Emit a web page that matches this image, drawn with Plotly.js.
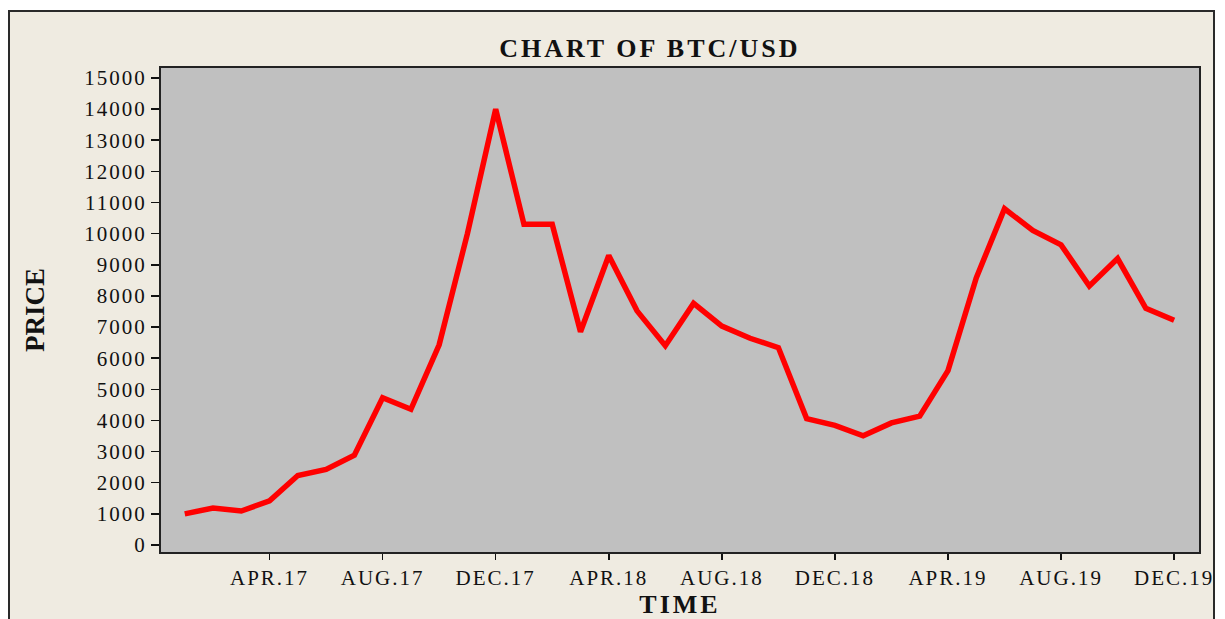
<!DOCTYPE html>
<html>
<head>
<meta charset="utf-8">
<script src="https://cdn.plot.ly/plotly-3.0.1.min.js"></script>
<style>
  html, body { margin: 0; padding: 0; background: #ffffff; }
  #frame {
    position: absolute; left: 8px; top: 10px; width: 1207px; height: 640px;
    background: #EFEBE1; border: 2px solid #2a2a2a; box-sizing: border-box;
  }
  #chart { position: absolute; left: 0; top: 0; width: 1225px; height: 619px; }
  .xtick text, .ytick text { letter-spacing: 2px; }
  .gtitle { letter-spacing: 3px; }
  .xtitle { letter-spacing: 3px; }
</style>
</head>
<body>
<div id="frame"></div>
<div id="chart"></div>
<script>
// Monthly BTC/USD closing price, Jan 2017 - Dec 2019
const months = [
  "JAN.17","FEB.17","MAR.17","APR.17","MAY.17","JUN.17","JUL.17","AUG.17","SEP.17","OCT.17","NOV.17","DEC.17",
  "JAN.18","FEB.18","MAR.18","APR.18","MAY.18","JUN.18","JUL.18","AUG.18","SEP.18","OCT.18","NOV.18","DEC.18",
  "JAN.19","FEB.19","MAR.19","APR.19","MAY.19","JUN.19","JUL.19","AUG.19","SEP.19","OCT.19","NOV.19","DEC.19"
];
const prices = [
  1000, 1190, 1090, 1420, 2230, 2430, 2880, 4730, 4360, 6430, 10000, 14000,
  10300, 10300, 6850, 9300, 7520, 6400, 7760, 7030, 6640, 6340, 4060, 3840,
  3510, 3920, 4140, 5600, 8580, 10800, 10100, 9640, 8320, 9200, 7600, 7220
];
const tickLabels = ["APR.17","AUG.17","DEC.17","APR.18","AUG.18","DEC.18","APR.19","AUG.19","DEC.19"];
const tickMonths = tickLabels.map(t => months.indexOf(t));
const idx = months.map((m, i) => i);

const serif = "Liberation Serif, Times New Roman, serif";

const trace = {
  x: idx,
  y: prices,
  text: months,
  type: "scatter",
  mode: "lines",
  line: { color: "#ff0000", width: 5.5 },
  hovertemplate: "%{text}: %{y}<extra></extra>"
};

const layout = {
  width: 1225, height: 619,
  margin: { l: 161, r: 26, t: 68, b: 67 },
  paper_bgcolor: "rgba(0,0,0,0)",
  plot_bgcolor: "#C0C0C0",
  showlegend: false,
  title: {
    text: "CHART OF BTC/USD",
    font: { family: serif, size: 26, color: "#111", weight: "bold" },
    xref: "paper", x: 0.471, xanchor: "center",
    yref: "container", y: 1 - 48 / 619, yanchor: "middle"
  },
  xaxis: {
    range: [-0.84, 35.88],
    tickmode: "array",
    tickvals: tickMonths,
    ticktext: tickLabels,
    ticks: "outside", ticklen: 6, tickwidth: 1.5, tickcolor: "#111",
    showgrid: false, zeroline: false,
    showline: true, linecolor: "#222", linewidth: 2, mirror: true,
    tickfont: { family: serif, size: 21, color: "#111" },
    title: { text: "TIME", standoff: 10, font: { family: serif, size: 26, color: "#111", weight: "bold" } }
  },
  yaxis: {
    range: [-225, 15320],
    tickmode: "linear", tick0: 0, dtick: 1000,
    tickformat: "d",
    ticks: "outside", ticklen: 8, tickwidth: 1.5, tickcolor: "#111",
    showgrid: false, zeroline: false,
    showline: true, linecolor: "#222", linewidth: 2, mirror: true,
    tickfont: { family: serif, size: 21, color: "#111" },
    title: { text: "PRICE", standoff: 32, font: { family: serif, size: 27, color: "#111", weight: "bold" } }
  }
};

Plotly.newPlot("chart", [trace], layout, { displayModeBar: false, staticPlot: true });
</script>
</body>
</html>
